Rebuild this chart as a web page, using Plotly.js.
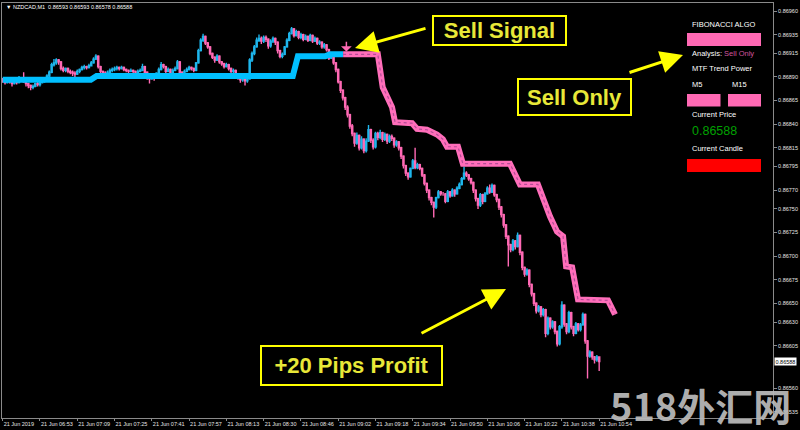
<!DOCTYPE html>
<html><head><meta charset="utf-8">
<script src="https://cdn.plot.ly/plotly-3.0.1.min.js"></script>
<style>html,body{margin:0;padding:0;background:#000;}#chart{width:800px;height:430px;}</style>
</head><body><div id="chart"></div>
<script>
// Prices stored in points above 0.86000 (1 point = 0.00001)
const symbolTitle = '▼ NZDCAD,M1  0.86593 0.86593 0.86578 0.86588';
const tickBars = [0,16,32,48,64,80,96,112,128,144,160,176,192,208,224,240,256];
const tickLabels = ['21 Jun 2019','21 Jun 06:53','21 Jun 07:09','21 Jun 07:25','21 Jun 07:41','21 Jun 07:57','21 Jun 08:13','21 Jun 08:30','21 Jun 08:46','21 Jun 09:02','21 Jun 09:18','21 Jun 09:34','21 Jun 09:50','21 Jun 10:06','21 Jun 10:22','21 Jun 10:38','21 Jun 10:54'];
const priceTicks = [0.86960,0.86935,0.86915,0.86890,0.86865,0.86840,0.86815,0.86795,0.86770,0.86750,0.86725,0.86700,0.86675,0.86650,0.86630,0.86605,0.86560,0.86535];

const openPts = [887,886,884,887,885,883,886,884,887,889,
885,883,881,879,880,883,882,884,886,889,
891,895,903,905,908,906,899,897,899,896,
895,894,893,896,898,900,901,900,902,905,
909,912,901,896,894,892,895,897,898,899,
900,899,900,898,897,896,897,896,895,896,
897,901,895,890,888,893,889,894,898,903,
901,896,898,895,897,899,906,895,893,896,
898,900,899,897,905,918,929,933,926,922,
915,911,908,912,906,904,901,903,899,896,
897,893,890,887,889,886,888,908,915,922,
929,931,928,932,930,923,928,931,927,918,
912,914,922,929,936,941,934,938,932,935,
930,933,929,934,928,931,926,927,922,924,
919,910,914,905,898,885,876,868,858,850,
838,830,820,828,815,824,812,822,834,823,
816,830,826,831,824,829,822,827,825,818,
821,815,806,796,788,784,793,801,794,797,
793,786,777,770,762,757,752,762,768,766,
766,758,768,764,770,766,772,776,782,788,
786,782,778,770,761,754,765,758,766,772,
768,775,765,760,752,744,733,721,712,707,
716,710,722,704,688,681,685,670,660,650,
642,646,638,643,618,634,625,630,620,607,
625,648,628,620,640,625,618,628,622,627,
638,610,594,598,593,590,593];
const highPts = [889,887,888,889,886,887,888,891,890,895,
886,884,882,882,884,885,886,887,890,893,
897,905,909,910,909,907,901,900,900,898,
897,896,898,899,902,903,902,904,907,911,
914,913,902,897,896,897,899,900,901,902,
901,902,901,899,898,899,898,897,898,899,
904,902,896,891,894,894,895,900,906,904,
902,900,899,899,901,908,907,896,898,900,
902,901,900,906,920,931,936,934,927,923,
916,912,914,913,907,905,905,904,900,899,
898,894,891,891,890,890,910,917,924,932,
935,933,934,934,931,930,933,932,928,919,
916,923,931,938,943,942,940,939,937,936,
935,934,936,935,933,932,929,928,926,925,
920,916,915,906,899,886,877,869,860,851,
840,831,831,829,827,825,825,839,835,825,
832,832,834,832,831,830,829,829,826,823,
822,816,807,797,789,794,803,815,799,798,
794,787,778,771,763,758,763,770,769,768,
767,770,769,772,771,774,778,784,795,790,
787,783,779,771,762,767,766,768,774,776,
777,776,766,761,753,745,734,722,713,718,
717,725,723,705,689,687,686,671,661,651,
648,647,645,644,636,635,632,631,621,627,
652,649,629,642,641,626,630,629,629,640,
639,611,600,599,594,595,593];
const lowPts = [884,882,883,883,880,882,882,883,885,884,
880,878,876,877,879,880,880,883,884,887,
890,894,901,903,903,897,895,895,894,893,
891,890,892,894,897,898,898,899,901,904,
908,899,893,891,889,890,893,895,896,897,
897,898,896,895,894,895,894,893,894,895,
896,893,887,883,887,886,888,893,897,899,
894,895,893,894,896,898,893,890,892,895,
897,897,895,896,904,917,927,924,920,913,
909,905,907,904,902,899,900,897,894,893,
890,887,884,885,881,884,887,906,913,921,
927,925,926,927,920,921,926,924,915,910,
910,913,921,928,935,932,933,930,930,928,
929,927,928,926,927,924,924,920,920,917,
908,909,903,895,883,873,865,855,847,835,
827,816,818,812,813,809,810,821,820,813,
814,823,824,821,822,819,820,822,815,816,
812,803,793,785,781,783,792,792,792,791,
784,775,767,759,754,741,750,761,764,764,
756,757,762,763,763,765,771,775,781,784,
780,776,767,758,750,752,755,757,765,766,
767,763,757,749,741,730,718,689,704,705,
707,709,701,685,678,679,667,657,647,639,
640,635,636,614,616,622,623,617,604,605,
623,625,617,618,622,615,617,620,620,626,
607,570,592,590,586,588,578];
const closePts = [886,884,887,885,883,886,884,887,889,885,
883,881,879,880,883,882,884,886,889,891,
895,903,905,908,906,899,897,899,896,895,
894,893,896,898,900,901,900,902,905,909,
912,901,896,894,892,895,897,898,899,900,
899,900,898,897,896,897,896,895,896,897,
901,895,890,888,893,889,894,898,903,901,
896,898,895,897,899,906,895,893,896,898,
900,899,897,905,918,929,933,926,922,915,
911,908,912,906,904,901,903,899,896,897,
893,890,887,889,886,888,908,915,922,929,
931,928,932,930,923,928,931,927,918,912,
914,922,929,936,941,934,938,932,935,930,
933,929,934,928,931,926,927,922,924,919,
910,914,905,898,885,876,868,858,850,838,
830,820,828,815,824,812,822,834,823,816,
830,826,831,824,829,822,827,825,818,821,
815,806,796,788,784,793,801,794,797,793,
786,777,770,762,757,752,762,768,766,766,
758,768,764,770,766,772,776,782,788,786,
782,778,770,761,754,765,758,766,772,768,
775,765,760,752,744,733,721,712,707,716,
710,722,704,688,681,685,670,660,650,642,
646,638,643,618,634,625,630,620,607,625,
648,628,620,640,625,618,628,622,627,638,
610,594,598,593,590,593,588];

// Trend line (bar index, points): buy phase then sell phase
const trendBuyBar = [0,37.8,40.3,124.5,126.7,138.4,140.5,146.1];
const trendBuyPts = [887,887,891,891,912,912,914,914];
const trendSellBar = [146.1,161.0,163.1,165.3,167.1,168.4,175.7,177.8,182.1,186.4,188.9,190.7,195.4,197.5,217.7,222.0,229.7,234.9,237.9,240.5,241.8,244.4,246.9,259.8,262.8];
const trendSellPts = [914,914,879,869,858,842,841,835,834,829,824,816,816,798,798,776,776,742,726,721,689,688,654,653,638];

const currentPrice = 0.86588;
const sellSignalBar = 147.5, sellSignalPts = 917;

const P = p => +(0.86 + p/100000).toFixed(5);
const bars = closePts.map((_, i) => i);

const PX = x => (x - 2) / 771;
const PY = y => (418 - y) / 415;

const traces = [
  {type:'candlestick', x:bars, open:openPts.map(P), high:highPts.map(P), low:lowPts.map(P), close:closePts.map(P),
   increasing:{line:{color:'#1EB6EC', width:1.4}, fillcolor:'#1EB6EC'},
   decreasing:{line:{color:'#FF69B4', width:1.4}, fillcolor:'#FF69B4'},
   whiskerwidth:0, hoverinfo:'skip', showlegend:false},
  {type:'scatter', mode:'lines', x:trendBuyBar, y:trendBuyPts.map(P), line:{color:'#00BFFF', width:6}, hoverinfo:'skip'},
  {type:'scatter', mode:'lines', x:trendSellBar, y:trendSellPts.map(P), line:{color:'#FF6EBA', width:6}, hoverinfo:'skip'},
  {type:'scatter', mode:'lines', x:trendSellBar, y:trendSellPts.map(P), line:{color:'#B44C96', width:1.2, dash:'dot'}, hoverinfo:'skip'}
];

const small = {family:'Liberation Sans, Arial', size:7.5, color:'#ffffff'};
const boxFont = {family:'Liberation Sans, Arial', size:22, color:'#E8E838'};
const annotations = [
  {xref:'paper', yref:'paper', x:PX(4), y:PY(6.5), xanchor:'left', yanchor:'middle', text:symbolTitle, showarrow:false, font:{family:'Liberation Sans, Arial', size:5.5, color:'#ffffff'}},
  // signal arrow
  {xref:'x', yref:'y', x:sellSignalBar, y:P(sellSignalPts), axref:'x', ayref:'y', ax:sellSignalBar, ay:P(sellSignalPts+12), text:'', showarrow:true, arrowcolor:'#FF69B4', arrowwidth:1.5, arrowhead:1, arrowsize:1.2},
  // callout boxes
  {xref:'paper', yref:'paper', x:PX(499.5), y:PY(30.5), xanchor:'center', yanchor:'middle', text:'<b>Sell Signal</b>', showarrow:false, font:boxFont, bgcolor:'#000', bordercolor:'#FFFF00', borderwidth:2, borderpad:0, width:131, height:27},
  {xref:'paper', yref:'paper', x:PX(574.5), y:PY(97), xanchor:'center', yanchor:'middle', text:'<b>Sell Only</b>', showarrow:false, font:boxFont, bgcolor:'#000', bordercolor:'#FFFF00', borderwidth:2, borderpad:0, width:111, height:34},
  {xref:'paper', yref:'paper', x:PX(351.5), y:PY(365.5), xanchor:'center', yanchor:'middle', text:'<b>+20 Pips Profit</b>', showarrow:false, font:boxFont, bgcolor:'#000', bordercolor:'#FFFF00', borderwidth:2, borderpad:0, width:179, height:37},
  // yellow arrows
  {xref:'paper', yref:'paper', x:PX(355), y:PY(48), ax:72, ay:-20, text:'', showarrow:true, arrowcolor:'#FFFF00', arrowwidth:3, arrowhead:2, arrowsize:1.5},
  {xref:'paper', yref:'paper', x:PX(683), y:PY(55), ax:-55, ay:18, text:'', showarrow:true, arrowcolor:'#FFFF00', arrowwidth:3, arrowhead:2, arrowsize:1.5},
  {xref:'paper', yref:'paper', x:PX(506), y:PY(289), ax:-86, ay:45, text:'', showarrow:true, arrowcolor:'#FFFF00', arrowwidth:3, arrowhead:2, arrowsize:1.5},
  // panel
  {xref:'paper', yref:'paper', x:PX(690), y:PY(25), xanchor:'left', yanchor:'middle', text:'FIBONACCI ALGO', showarrow:false, font:small},
  {xref:'paper', yref:'paper', x:PX(690), y:PY(53), xanchor:'left', yanchor:'middle', text:'Analysis: <span style="color:#D0559E">Sell Only</span>', showarrow:false, font:small},
  {xref:'paper', yref:'paper', x:PX(690), y:PY(68.5), xanchor:'left', yanchor:'middle', text:'MTF Trend Power', showarrow:false, font:small},
  {xref:'paper', yref:'paper', x:PX(690), y:PY(84), xanchor:'left', yanchor:'middle', text:'M5', showarrow:false, font:small},
  {xref:'paper', yref:'paper', x:PX(730), y:PY(84), xanchor:'left', yanchor:'middle', text:'M15', showarrow:false, font:small},
  {xref:'paper', yref:'paper', x:PX(690), y:PY(114), xanchor:'left', yanchor:'middle', text:'Current Price', showarrow:false, font:small},
  {xref:'paper', yref:'paper', x:PX(689.5), y:PY(130.5), xanchor:'left', yanchor:'middle', text:currentPrice.toFixed(5), showarrow:false, font:{family:'Liberation Sans, Arial', size:12.5, color:'#00A000'}},
  {xref:'paper', yref:'paper', x:PX(690), y:PY(148.5), xanchor:'left', yanchor:'middle', text:'Current Candle', showarrow:false, font:small},
  // current price tag on axis
  {xref:'paper', yref:'y', x:1, y:currentPrice, xanchor:'left', yanchor:'middle', xshift:1, text:currentPrice.toFixed(5), showarrow:false, bgcolor:'#ffffff', borderpad:0.5, font:{family:'Liberation Sans, Arial', size:5.5, color:'#000000'}},
  // watermark
  {xref:'paper', yref:'paper', x:PX(700), y:PY(404), xanchor:'center', yanchor:'middle', text:'<b>518外汇网</b>', showarrow:false, font:{family:'Noto Sans CJK SC', size:38, color:'rgba(185,185,185,0.95)'}}
];

const shapes = [
  {type:'rect', xref:'paper', yref:'paper', x0:PX(687), x1:PX(761), y0:PY(46), y1:PY(33), fillcolor:'#FF69B4', line:{width:0}},
  {type:'rect', xref:'paper', yref:'paper', x0:PX(687), x1:PX(720.5), y0:PY(106.5), y1:PY(94), fillcolor:'#FF69B4', line:{width:0}},
  {type:'rect', xref:'paper', yref:'paper', x0:PX(728), x1:PX(761), y0:PY(106.5), y1:PY(94), fillcolor:'#FF69B4', line:{width:0}},
  {type:'rect', xref:'paper', yref:'paper', x0:PX(687), x1:PX(761), y0:PY(172), y1:PY(159), fillcolor:'#FF0000', line:{width:0}}
];

const layout = {
  width:800, height:430,
  margin:{l:2, r:27, t:3, b:12, pad:0},
  paper_bgcolor:'#000', plot_bgcolor:'#000',
  showlegend:false,
  xaxis:{range:[-0.3,330.6], showgrid:false, zeroline:false, showline:true, mirror:true, linecolor:'#8a8a8a', linewidth:1,
         tickmode:'array', tickvals:tickBars, ticktext:tickLabels, ticks:'outside', ticklen:2, tickcolor:'#8a8a8a', tickangle:0,
         ticklabelposition:'outside right', tickfont:{family:'Liberation Sans, Arial', size:5.5, color:'#e6e6e6'},
         automargin:false, rangeslider:{visible:false}, fixedrange:true},
  yaxis:{side:'right', range:[0.865282,0.869685], showgrid:false, zeroline:false, showline:true, mirror:true, linecolor:'#8a8a8a', linewidth:1,
         tickmode:'array', tickvals:priceTicks, ticktext:priceTicks.map(v=>v.toFixed(5)), ticks:'outside', ticklen:3, tickcolor:'#8a8a8a',
         automargin:false, tickfont:{family:'Liberation Sans, Arial', size:5.5, color:'#e6e6e6'}, fixedrange:true},
  annotations, shapes
};

Plotly.newPlot('chart', traces, layout, {staticPlot:true, displayModeBar:false});
</script>
</body></html>
